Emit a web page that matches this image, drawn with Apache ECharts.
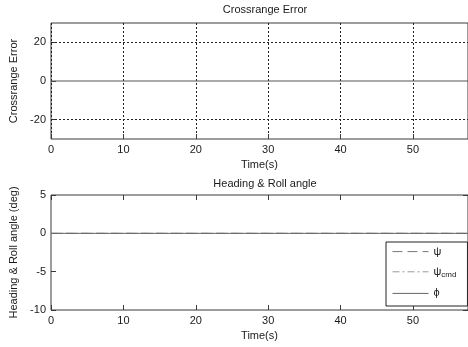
<!DOCTYPE html>
<html><head><meta charset="utf-8">
<script src="https://cdn.jsdelivr.net/npm/echarts@6/dist/echarts.min.js"></script>
<style>html,body{margin:0;padding:0;background:#fff}#c{width:468px;height:347px}</style>
</head><body><div id="c"></div>
<script>
// Data
const time = [0, 57.6];
const crossrange = [0, 0];
const psi = [0, 0];
const psiCmd = [0, 0];
const phi = [0, 0];
const xTicks = [0, 10, 20, 30, 40, 50];
const yTicksTop = [-20, 0, 20];
const yTicksBottom = [-10, -5, 0, 5];

const pairs = (ys) => time.map((t, i) => [t, ys[i]]);
const font = 'Liberation Sans, Arial, sans-serif';
const txt = '#1a1a1a';
const box = '#3a3a3a';
const xMax = time[time.length - 1];

const baseX = (gi) => ({
  type: 'value', gridIndex: gi, min: 0, max: xMax, interval: 10,
  axisLine: {show: false, onZero: false},
  axisTick: {show: true, inside: true, length: 5, lineStyle: {color: box}},
  axisLabel: {color: txt, fontFamily: font, fontSize: 11, margin: 5, showMaxLabel: false},
  name: 'Time(s)', nameLocation: 'middle', nameGap: 20,
  nameTextStyle: {color: txt, fontFamily: font, fontSize: 11}
});

const chart = echarts.init(document.getElementById('c'));
chart.setOption({
  animation: false,
  backgroundColor: '#fff',
  title: [
    {text: 'Crossrange Error', left: 260, top: -1, textAlign: 'center',
     textStyle: {fontFamily: font, fontSize: 11, fontWeight: 'normal', color: txt}},
    {text: 'Heading & Roll angle', left: 260, top: 173, textAlign: 'center',
     textStyle: {fontFamily: font, fontSize: 11, fontWeight: 'normal', color: txt}}
  ],
  grid: [
    {left: 51, right: -3, top: 23, height: 116, show: true, borderColor: box, borderWidth: 1, backgroundColor: '#fff'},
    {left: 51, right: -3, top: 195, height: 115, show: true, borderColor: box, borderWidth: 1, backgroundColor: '#fff'}
  ],
  xAxis: [
    Object.assign(baseX(0), {splitLine: {show: true, lineStyle: {color: '#222', type: [2, 2], width: 1}}}),
    Object.assign(baseX(1), {splitLine: {show: false}}),
    {type: 'value', gridIndex: 1, position: 'top', min: 0, max: xMax, interval: 10,
     axisLine: {show: false, onZero: false}, axisLabel: {show: false}, splitLine: {show: false},
     axisTick: {show: true, inside: true, length: 5, lineStyle: {color: box}}}
  ],
  yAxis: [
    {type: 'value', gridIndex: 0, min: -30, max: 30,
     axisLine: {show: false, onZero: false},
     axisTick: {show: true, inside: true, length: 5, customValues: yTicksTop, lineStyle: {color: box}},
     axisLabel: {color: txt, fontFamily: font, fontSize: 11, margin: 5, customValues: yTicksTop},
     splitLine: {show: false},
     name: 'Crossrange Error', nameLocation: 'middle', nameGap: 25,
     nameTextStyle: {color: txt, fontFamily: font, fontSize: 11}},
    {type: 'value', gridIndex: 1, min: -10, max: 5, interval: 5,
     axisLine: {show: false, onZero: false},
     axisTick: {show: true, inside: true, length: 5, lineStyle: {color: box}},
     axisLabel: {color: txt, fontFamily: font, fontSize: 11, margin: 5},
     splitLine: {show: false},
     name: 'Heading & Roll angle (deg)', nameLocation: 'middle', nameGap: 25,
     nameTextStyle: {color: txt, fontFamily: font, fontSize: 11}},
    {type: 'value', gridIndex: 1, position: 'right', min: -10, max: 5, interval: 5,
     axisLine: {show: false, onZero: false}, axisLabel: {show: false}, splitLine: {show: false},
     axisTick: {show: true, inside: true, length: 5, lineStyle: {color: box}}}
  ],
  legend: {
    left: 386, top: 242, orient: 'vertical',
    backgroundColor: '#fff', borderColor: '#222', borderWidth: 1,
    padding: [4, 11, 7, 6], itemGap: 9, itemWidth: 36, itemHeight: 14,
    itemStyle: {opacity: 0},
    lineStyle: {width: 1},
    textStyle: {fontFamily: font, fontSize: 11, color: txt,
      rich: {sub: {fontFamily: font, fontSize: 8, color: txt, verticalAlign: 'bottom', padding: [6, 0, 0, 0]},
             m: {fontFamily: font, fontSize: 11, color: txt}}},
    formatter: (n) => n === 'psi' ? '{m|ψ}' : n === 'psicmd' ? '{m|ψ}{sub|cmd}' : '{m|ϕ}',
    data: ['psi', 'psicmd', 'phi']
  },
  series: [
    {name: 'cre', type: 'line', xAxisIndex: 0, yAxisIndex: 0, data: pairs(crossrange), showSymbol: false, symbol: 'none',
     lineStyle: {color: '#555', width: 1}, z: 3,
     markLine: {silent: true, symbol: 'none', label: {show: false},
       lineStyle: {color: '#222', type: [2, 2], width: 1},
       data: yTicksTop.filter(v => v !== 0).map(v => ({yAxis: v}))}},
    {name: 'psi', type: 'line', xAxisIndex: 1, yAxisIndex: 1, data: pairs(psi), showSymbol: false, symbol: 'none',
     lineStyle: {color: '#777', width: 1, type: [10, 5]}, itemStyle: {color: '#777'}, z: 2},
    {name: 'psicmd', type: 'line', xAxisIndex: 1, yAxisIndex: 1, data: pairs(psiCmd), showSymbol: false, symbol: 'none',
     lineStyle: {color: '#999', width: 1, type: [7, 3, 2, 3]}, itemStyle: {color: '#999'}, z: 2},
    {name: 'phi', type: 'line', xAxisIndex: 1, yAxisIndex: 1, data: pairs(phi), showSymbol: false, symbol: 'none',
     lineStyle: {color: '#666', width: 1}, itemStyle: {color: '#666'}, z: 4}
  ]
});
</script></body></html>
